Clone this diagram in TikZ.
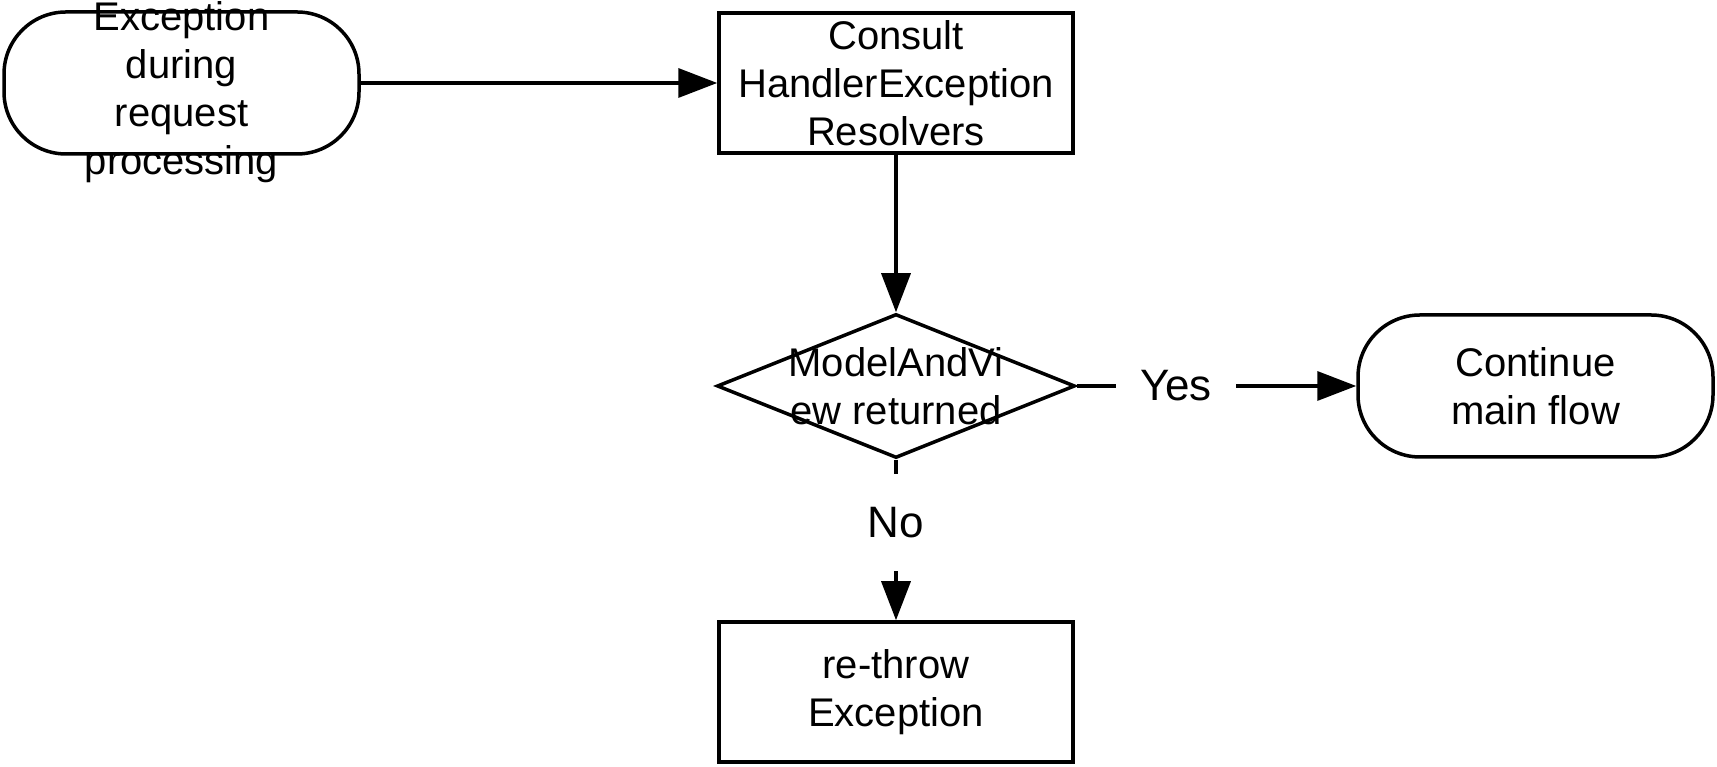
\documentclass[tikz,border=0pt]{standalone}
\usepackage{fontspec}
\setmainfont{Liberation Sans}
\usetikzlibrary{shapes.geometric,arrows.meta}

\tikzset{
  terminal/.style={draw, rounded corners=62pt, line width=3.5pt, minimum width=355pt, minimum height=142pt, inner sep=0pt, align=center},
  process/.style={draw, rectangle, line width=3.5pt, minimum width=354pt, minimum height=140pt, inner sep=0pt, align=center},
  decision/.style={draw, diamond, line width=3.5pt, minimum width=358pt, minimum height=144pt, inner sep=0pt},
  answer/.style={fill=white, inner xsep=24pt, inner ysep=33pt, font=\fontsize{44}{52}\selectfont},
  flow/.style={->, >={Triangle[length=39pt,width=29pt]}, line width=3.5pt}
}

\begin{document}
\begin{tikzpicture}[x=1pt, y=1pt, font=\fontsize{40}{48}\selectfont]
				\useasboundingbox (0,0) rectangle (1717,767);
				\node[terminal, label={[align=center, yshift=-9pt]center:Exception\\during\\request\\processing}] (S)at(181.5, 684) {};
				\node[process] (H)at(896, 684) {Consult\\HandlerException\\Resolvers};
				\node[decision, label={[align=center]center:ModelAndVi\\ew returned}] (M)at(896, 381) {};
				\node[terminal] (C)at(1535.5, 381) {Continue\\main flow};
				\node[process] (R)at(896, 75) {re-throw\\Exception};
				\draw[flow] (S) -- (H);
				\draw[flow] (H) -- (M);
				\draw[flow] (M) -- node[pos=0.355, answer] (Y) {Yes} (C);
				\draw[flow] (M) -- node[pos=0.39, answer] (N) {No} (R);
			\end{tikzpicture}
\end{document}
